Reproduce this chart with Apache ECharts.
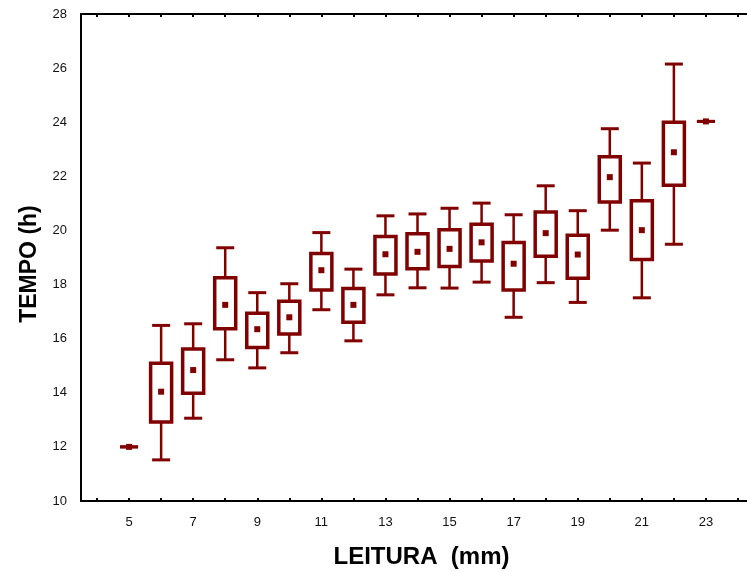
<!DOCTYPE html>
<html>
<head>
<meta charset="utf-8">
<script src="https://cdn.jsdelivr.net/npm/echarts@6/dist/echarts.min.js"></script>
<style>
  html, body { margin: 0; padding: 0; background: #fff; }
  #chart { width: 747px; height: 571px; }
</style>
</head>
<body>
<div id="chart"></div>
<script>
// leitura (mm) categories, 4..24
var categories = ['4', '5', '6', '7', '8', '9', '10', '11', '12', '13', '14',
  '15', '16', '17', '18', '19', '20', '21', '22', '23', '24'];

// tempo (h) per category, null = no data
var whiskerLow  = [null, 12.0, 11.52, 13.06, 15.22, 14.92, 15.48, 17.07, 15.92, 17.62, 17.88,
  17.87, 18.09, 16.79, 18.07, 17.34, 20.01, 17.51, 19.49, 24.03, null];
var boxLow      = [null, 12.0, 12.92, 13.98, 16.37, 15.67, 16.17, 17.80, 16.61, 18.39, 18.58,
  18.67, 18.87, 17.80, 19.05, 18.23, 21.05, 18.93, 21.67, 24.03, null];
var meanValue   = [null, 12.0, 14.04, 14.84, 17.25, 16.35, 16.79, 18.53, 17.25, 19.12, 19.21,
  19.32, 19.56, 18.77, 19.90, 19.11, 21.97, 20.01, 22.89, 24.03, null];
var boxHigh     = [null, 12.0, 15.09, 15.62, 18.25, 16.94, 17.38, 19.15, 17.85, 19.78, 19.88,
  20.03, 20.23, 19.55, 20.68, 19.82, 22.72, 21.10, 24.00, 24.03, null];
var whiskerHigh = [null, 12.0, 16.49, 16.55, 19.36, 17.70, 18.03, 19.92, 18.57, 20.54, 20.61,
  20.82, 21.01, 20.58, 21.65, 20.73, 23.76, 22.49, 26.15, 24.03, null];

var yTicks = { min: 10, max: 28, interval: 2 };

var COLOR = '#800000';

// build rows for the custom series
var rows = [];
for (var i = 0; i < categories.length; i++) {
  if (meanValue[i] == null) continue;
  rows.push([i, whiskerLow[i], boxLow[i], meanValue[i], boxHigh[i], whiskerHigh[i]]);
}

function renderBox(params, api) {
  var idx = api.value(0);
  var pWL = api.coord([idx, api.value(1)]);
  var pBL = api.coord([idx, api.value(2)]);
  var pM  = api.coord([idx, api.value(3)]);
  var pBH = api.coord([idx, api.value(4)]);
  var pWH = api.coord([idx, api.value(5)]);
  var x = pM[0];
  var halfBox = 10.5, halfCap = 9, dot = 6;
  var children = [];
  var flat = api.value(2) === api.value(4);

  if (!flat) {
    // whiskers
    children.push({ type: 'line', shape: { x1: x, y1: pWH[1], x2: x, y2: pBH[1] },
      style: { stroke: COLOR, lineWidth: 2.5 } });
    children.push({ type: 'line', shape: { x1: x, y1: pBL[1], x2: x, y2: pWL[1] },
      style: { stroke: COLOR, lineWidth: 2.5 } });
    // box
    children.push({ type: 'rect',
      shape: { x: x - halfBox, y: pBH[1], width: halfBox * 2, height: pBL[1] - pBH[1] },
      style: { fill: '#fff', stroke: COLOR, lineWidth: 3.5 } });
  }
  // caps
  children.push({ type: 'line', shape: { x1: x - halfCap, y1: pWH[1], x2: x + halfCap, y2: pWH[1] },
    style: { stroke: COLOR, lineWidth: 3 } });
  children.push({ type: 'line', shape: { x1: x - halfCap, y1: pWL[1], x2: x + halfCap, y2: pWL[1] },
    style: { stroke: COLOR, lineWidth: 3 } });
  // mean marker
  children.push({ type: 'rect',
    shape: { x: x - dot / 2, y: pM[1] - dot / 2, width: dot, height: dot },
    style: { fill: COLOR } });

  return { type: 'group', children: children };
}

var chart = echarts.init(document.getElementById('chart'), null, { renderer: 'canvas' });

var option = {
  animation: false,
  backgroundColor: '#fff',
  grid: {
    left: 81,
    top: 14,
    width: 673,
    bottom: 70,
    containLabel: false,
    outerBoundsMode: 'none'
  },
  xAxis: [
    {
      type: 'category',
      data: categories,
      position: 'bottom',
      boundaryGap: true,
      name: 'LEITURA  (mm)',
      nameLocation: 'middle',
      nameGap: 44,
      nameTextStyle: {
        fontFamily: 'Liberation Sans', fontWeight: 'bold', fontSize: 24, color: '#000',
        padding: [0, 0, 0, 8]
      },
      axisLine: { lineStyle: { color: '#000', width: 2 } },
      axisTick: { show: true, inside: true, alignWithLabel: true, interval: 0, length: 3,
        lineStyle: { color: '#000', width: 2 } },
      axisLabel: {
        interval: function (index, value) { return Number(value) % 2 === 1; },
        margin: 15,
        fontFamily: 'Liberation Sans', fontSize: 13, color: '#111'
      },
      splitLine: { show: false }
    },
    {
      type: 'category',
      data: categories,
      position: 'top',
      boundaryGap: true,
      axisLine: { lineStyle: { color: '#000', width: 2 } },
      axisTick: { show: true, inside: true, alignWithLabel: true, interval: 0, length: 3,
        lineStyle: { color: '#000', width: 2 } },
      axisLabel: { show: false },
      splitLine: { show: false }
    }
  ],
  yAxis: {
    type: 'value',
    min: yTicks.min,
    max: yTicks.max,
    interval: yTicks.interval,
    name: 'TEMPO (h)',
    nameLocation: 'middle',
    nameGap: 38,
    nameTextStyle: {
      fontFamily: 'Liberation Sans', fontWeight: 'bold', fontSize: 23, color: '#000',
      padding: [0, 13, 0, 0]
    },
    axisLine: { show: true, lineStyle: { color: '#000', width: 2 } },
    axisTick: { show: false },
    axisLabel: { margin: 14, fontFamily: 'Liberation Sans', fontSize: 13, color: '#111' },
    splitLine: { show: false }
  },
  series: [
    {
      type: 'custom',
      xAxisIndex: 0,
      renderItem: renderBox,
      encode: { x: 0, y: [1, 2, 3, 4, 5] },
      data: rows,
      clip: false
    }
  ]
};

chart.setOption(option);
</script>
</body>
</html>
